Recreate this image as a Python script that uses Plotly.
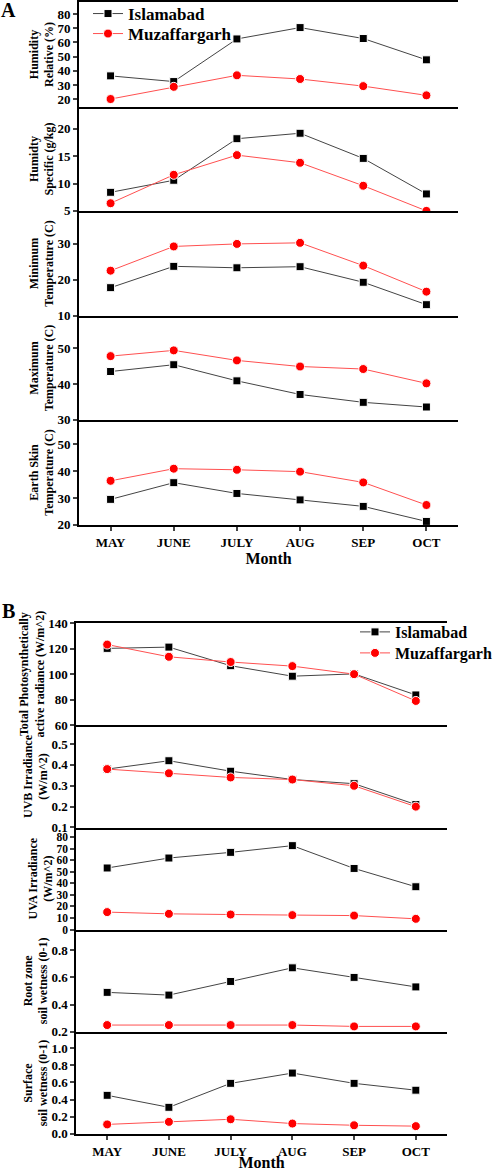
import plotly.graph_objects as go

months = ["MAY", "JUNE", "JULY", "AUG", "SEP", "OCT"]

# panel A - Islamabad / Muzaffargarh
rh_isl = [36.5, 32.5, 62.5, 70.5, 62.8, 47.8]
rh_muz = [20.2, 28.8, 36.9, 34.3, 29.3, 22.8]
sh_isl = [8.4, 10.6, 18.2, 19.2, 14.6, 8.1]
sh_muz = [6.4, 11.6, 15.2, 13.8, 9.6, 5.0]
tmin_isl = [17.8, 23.7, 23.3, 23.6, 19.3, 13.1]
tmin_muz = [22.5, 29.2, 29.9, 30.2, 23.9, 16.7]
tmax_isl = [43.5, 45.4, 40.9, 37.1, 34.9, 33.6]
tmax_muz = [47.8, 49.4, 46.6, 44.9, 44.2, 40.2]
skin_isl = [29.5, 35.7, 31.7, 29.3, 26.9, 21.3]
skin_muz = [36.4, 40.9, 40.5, 39.8, 35.8, 27.4]

# panel B
par_isl = [120.2, 121.2, 106.6, 98.4, 100.2, 83.7]
par_muz = [123.2, 113.6, 109.5, 106.3, 100.0, 79.0]
uvb_isl = [0.38, 0.42, 0.37, 0.33, 0.31, 0.21]
uvb_muz = [0.38, 0.36, 0.34, 0.33, 0.30, 0.20]
uva_isl = [53.2, 61.8, 66.7, 72.5, 52.8, 37.0]
uva_muz = [15.1, 13.6, 13.0, 12.5, 12.1, 9.3]
root_isl = [0.49, 0.47, 0.57, 0.67, 0.60, 0.53]
root_muz = [0.25, 0.25, 0.25, 0.25, 0.24, 0.24]
surf_isl = [0.45, 0.31, 0.59, 0.71, 0.59, 0.51]
surf_muz = [0.11, 0.14, 0.17, 0.12, 0.10, 0.09]

W, H = 496, 1171
FONT = "Liberation Serif"


def bfont(size):
    return dict(family=FONT, size=size, color="black", weight="bold")


panels = [
    dict(xpx=(79, 458), ypx=[2, 107, 211, 316, 420, 525], legends=("legend", "legend2"), rows=[
        ("Humidity<br>Relative (%)", rh_isl, rh_muz, [14.6, 88.5], 10, None, 13),
        ("Humidty<br>Specific (g/kg)", sh_isl, sh_muz, [4.98, 24], 5, None, 13),
        ("Minimum<br>Temperature (C)", tmin_isl, tmin_muz, [9.97, 39], 10, None, 13),
        ("Maximum<br>Temperature (C)", tmax_isl, tmax_muz, [29.97, 59], 10, None, 13),
        ("Earth Skin<br>Temperature (C)", skin_isl, skin_muz, [19.97, 59], 10, None, 13),
    ]),
    dict(xpx=(76.3, 446.7), ypx=[623, 725.3, 827.7, 929.7, 1032, 1134], legends=("legend3", "legend4"), rows=[
        ("Total Photosynthetically<br>active radiance (W/m^2)", par_isl, par_muz, [59.9, 140.1], 20, None, 13),
        ("UVB Irradiance<br>(W/m^2)", uvb_isl, uvb_muz, [0.099, 0.59], 0.1, ".1f", 13),
        ("UVA Irradiance<br>(W/m^2)", uva_isl, uva_muz, [-0.1, 88], 10, None, 11.5),
        ("Root zone<br>soil wetness (0-1)", root_isl, root_muz, [0.199, 0.95], 0.2, ".1f", 13),
        ("Surface<br>soil wetness (0-1)", surf_isl, surf_muz, [-0.002, 1.19], 0.2, ".1f", 13),
    ]),
]

fig = go.Figure()
layout = {}
n = 0
for p in panels:
    x0, x1 = p["xpx"][0] / W, p["xpx"][1] / W
    for i, (title, isl, muz, yr, dt, fmt, tfs) in enumerate(p["rows"]):
        n += 1
        xa = "x" if n == 1 else f"x{n}"
        ya = "y" if n == 1 else f"y{n}"
        top = 1 - p["ypx"][i] / H
        bot = 1 - p["ypx"][i + 1] / H
        last = i == len(p["rows"]) - 1
        fig.add_trace(go.Scatter(
            x=months, y=isl, xaxis=xa, yaxis=ya, name="Islamabad",
            mode="lines+markers", legend=p["legends"][0], showlegend=(i == 0),
            line=dict(color="#444444", width=1),
            marker=dict(symbol="square", size=8, color="black",
                        line=dict(color="white", width=1)),
        ))
        fig.add_trace(go.Scatter(
            x=months, y=muz, xaxis=xa, yaxis=ya, name="Muzaffargarh",
            mode="lines+markers", legend=p["legends"][1], showlegend=(i == 0),
            line=dict(color="#ff5050", width=1),
            marker=dict(symbol="circle", size=9, color="#ff0000",
                        line=dict(color="white", width=1)),
        ))
        xkey = "xaxis" if n == 1 else f"xaxis{n}"
        ykey = "yaxis" if n == 1 else f"yaxis{n}"
        layout[xkey] = dict(
            domain=[x0, x1], anchor=ya, type="category", range=[-0.5, 5.5],
            automargin=False,
            showline=True, linecolor="black", linewidth=2, showgrid=False,
            zeroline=False, mirror=(i == 0),
            ticks="outside" if last else "", ticklen=4, tickwidth=1.5,
            showticklabels=last, tickfont=bfont(13),
            title=dict(text="Month" if last else "", font=bfont(16), standoff=0),
        )
        layout[ykey] = dict(
            domain=[bot, top], anchor=xa, range=yr, dtick=dt, tick0=0,
            automargin=False,
            tickformat=fmt, showline=True, linecolor="black", linewidth=2,
            showgrid=False, zeroline=False, ticks="outside", ticklen=4,
            tickwidth=1.5, tickfont=bfont(tfs),
            title=dict(text=title, font=bfont(12), standoff=1),
        )


def leg(xpx, ypx, size):
    return dict(x=xpx / W, y=1 - ypx / H, xanchor="left", yanchor="middle",
                bgcolor="rgba(0,0,0,0)", font=bfont(size))


fig.update_layout(
    width=W, height=H,
    margin=dict(l=0, r=0, t=0, b=0, autoexpand=False),
    paper_bgcolor="white", plot_bgcolor="white",
    font=dict(family=FONT, color="black"),
    legend=leg(88, 14, 17),
    legend2=leg(88, 34, 17),
    legend3=leg(355, 632, 16),
    legend4=leg(355, 653, 16),
    annotations=[
        dict(text="A", x=8.5 / W, y=1 - 10.5 / H, xref="paper", yref="paper",
             xanchor="center", yanchor="middle",
             showarrow=False, font=bfont(20)),
        dict(text="B", x=8.5 / W, y=1 - 611 / H, xref="paper", yref="paper",
             xanchor="center", yanchor="middle",
             showarrow=False, font=bfont(20)),
    ],
    **layout,
)

fig.write_html("out.html", config={"displayModeBar": False},
               post_script="document.body.style.margin='0px';")
